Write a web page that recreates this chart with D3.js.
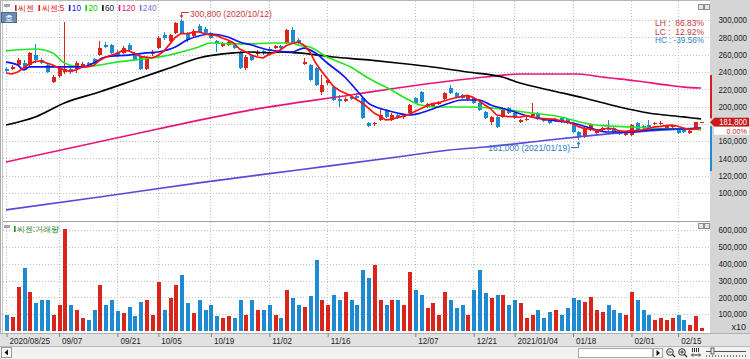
<!DOCTYPE html>
<html><head><meta charset="utf-8">
<script src="https://cdn.jsdelivr.net/npm/d3@7/dist/d3.min.js"></script>
<style>
html,body{margin:0;padding:0;background:#fff;overflow:hidden}
svg{display:block}
text{font-family:"Liberation Sans",Arial,sans-serif}
</style></head><body>
<svg id="c" width="750" height="359"></svg>
<script>
// ---------------- DATA ----------------
const dates = ["2020/08/25","2020/08/26","2020/08/27","2020/08/28","2020/08/31","2020/09/01","2020/09/02","2020/09/03","2020/09/04",
"2020/09/07","2020/09/08","2020/09/09","2020/09/10","2020/09/11","2020/09/14","2020/09/15","2020/09/16","2020/09/17","2020/09/18",
"2020/09/21","2020/09/22","2020/09/23","2020/09/24","2020/09/25","2020/09/28","2020/09/29","2020/10/05","2020/10/06","2020/10/07","2020/10/08",
"2020/10/12","2020/10/13","2020/10/14","2020/10/15","2020/10/16","2020/10/19","2020/10/20","2020/10/21","2020/10/22","2020/10/23",
"2020/10/26","2020/10/27","2020/10/28","2020/10/29","2020/10/30","2020/11/02","2020/11/03","2020/11/04","2020/11/05","2020/11/06",
"2020/11/09","2020/11/10","2020/11/11","2020/11/12","2020/11/13","2020/11/16","2020/11/17","2020/11/18","2020/11/19","2020/11/20",
"2020/11/23","2020/11/24","2020/11/25","2020/11/26","2020/11/27","2020/11/30","2020/12/01","2020/12/02","2020/12/03","2020/12/04",
"2020/12/07","2020/12/08","2020/12/09","2020/12/10","2020/12/11","2020/12/14","2020/12/15","2020/12/16","2020/12/17","2020/12/18",
"2020/12/21","2020/12/22","2020/12/23","2020/12/24","2020/12/28","2020/12/29","2020/12/30","2021/01/04","2021/01/05","2021/01/06",
"2021/01/07","2021/01/08","2021/01/11","2021/01/12","2021/01/13","2021/01/14","2021/01/15","2021/01/18","2021/01/19","2021/01/20",
"2021/01/21","2021/01/22","2021/01/25","2021/01/26","2021/01/27","2021/01/28","2021/01/29","2021/02/01","2021/02/02","2021/02/03",
"2021/02/04","2021/02/05","2021/02/08","2021/02/09","2021/02/10","2021/02/15","2021/02/16","2021/02/17","2021/02/18","2021/02/19"];

const opens = [243400,243400,248000,250300,248000,259500,253800,248000,228300,235300,239900,243400,243400,246800,250300,254900,259500,271100,271100,263000,
261900,271100,261900,258400,243400,260700,267600,282700,275700,285000,298800,283800,281500,293100,289600,285000,275700,269900,271100,271100,
261900,244500,259500,260700,264200,266500,267600,269900,273400,288400,276900,249700,248000,244500,216800,227200,222500,208700,206400,211000,
212100,209800,180900,179200,184400,196000,184400,190200,187300,192500,209800,216800,199400,200600,202900,208700,221400,215600,213300,208700,
209800,204100,193600,182100,187900,187900,198300,192500,182100,184900,189000,192500,185600,185600,183200,186700,185600,180900,170500,164800,
172800,169400,172800,175200,175200,170500,167100,167100,180900,177500,178600,179800,179800,175200,176300,172800,174000,169400,175200,181800];
const highs = [245700,248000,256100,253800,263000,272300,256100,250300,236400,246800,297700,244500,252600,251400,251400,256100,275700,274600,272300,265300,
269900,273400,263000,259500,256100,265300,281500,286100,283800,297700,300800,286100,289600,295400,291900,286100,276900,274600,275700,272300,
264200,259500,260700,265300,265300,268800,271100,271100,289600,291900,279200,256100,249100,245700,236400,233000,223700,213300,211000,212100,
214500,211000,182100,182100,198300,197100,192500,191300,191300,202900,211000,217900,204100,204100,206400,216800,224900,216800,214500,213300,
211000,205200,194800,189000,189000,199400,199400,193600,185600,187900,204100,193600,186700,186700,186700,187900,186700,182100,171700,176300,
179800,174000,176300,184400,176300,171700,171700,179800,182100,178600,184400,182100,183200,178600,178600,174000,175200,172800,182100,182600];
const lows = [239900,242200,246800,243400,246800,250300,249100,238700,227200,233000,237600,237600,238700,245700,246800,249100,258400,267600,260700,257200,
260700,264200,252600,242200,242200,258400,266500,276900,274600,283800,283800,274600,279200,285000,283800,278000,263000,268800,269900,266500,
243400,242200,252600,258400,259500,263000,266500,266500,272300,272300,272300,248000,229500,223700,213300,224900,206400,199400,205200,207500,
208700,185600,176300,177500,183200,186700,183200,185600,185600,191300,202900,204100,198300,199400,201700,207500,214500,209800,208700,207500,
202900,194800,185600,178600,175200,186700,191300,185600,180900,183200,187900,184400,182100,179800,182100,180900,179800,169400,161000,163600,
171700,168200,171700,171700,169400,167100,165900,165900,171700,174000,174000,178600,178600,174000,175200,168200,169400,168200,174000,181000];
const closes = [241000,245700,253800,244500,261900,253800,250300,239900,234100,244500,243400,239900,250300,249100,248000,250300,267600,268800,261900,258400,
267600,265300,253800,243400,254900,263000,279200,279200,282700,296500,285000,276900,287300,286100,285000,279200,273400,272300,274600,267600,
244500,257200,253800,263000,261900,264200,269900,268200,288400,273400,273400,251400,230600,224900,224900,230600,207500,206400,208700,208700,
209800,186700,177500,180400,190200,187900,190200,186700,189000,201700,204100,205200,202900,202900,205200,215600,215600,211000,209800,212100,
204100,196000,186700,187900,176300,198300,192500,186700,184400,185600,191300,185600,183200,180900,185600,182100,180900,170500,164800,175200,
178600,172800,175200,172800,170500,168200,170500,178600,172800,175200,175200,180900,180900,177500,177500,169400,170500,171700,181800,181800];
// volume (chart units, axis shows x10)
const volumes = [95000,83000,262000,375000,232000,167000,185000,185000,95000,155000,607000,155000,125000,77000,65000,125000,274000,155000,185000,119000,
107000,143000,89000,173000,185000,95000,292000,125000,196000,274000,333000,167000,107000,185000,125000,155000,89000,77000,89000,77000,
185000,95000,185000,125000,125000,155000,95000,77000,244000,196000,155000,143000,208000,423000,185000,155000,214000,185000,232000,185000,
155000,363000,315000,393000,185000,155000,185000,185000,155000,351000,244000,214000,137000,167000,95000,232000,185000,137000,155000,95000,
244000,363000,226000,196000,214000,214000,155000,185000,167000,77000,95000,125000,77000,113000,125000,95000,137000,196000,185000,173000,
202000,125000,113000,155000,125000,107000,95000,232000,185000,125000,95000,65000,77000,65000,77000,95000,65000,36000,89000,18000];
// moving averages
const ma5 = [238700,237600,239900,244500,249400,251900,252900,250100,248000,244500,242400,240400,242400,245400,246100,247500,253100,256800,259300,261400,
264900,264400,261400,257700,257000,256100,258900,263900,271800,280100,284500,284100,285700,286400,284100,282900,282200,279200,276900,273400,
266500,263200,259500,257200,256100,260000,262600,265400,270500,272800,274700,271000,263400,250700,241000,232500,223700,218900,215600,212400,
208200,204100,198300,192600,188900,184500,185200,187100,188800,191100,194300,197300,200600,203400,204100,206400,208400,210100,211400,212800,
210500,206600,201700,197400,190200,189000,188300,188300,187600,189500,188100,186700,186000,185300,185300,183500,182500,180000,176800,174700,
174000,172400,173300,174900,174000,171900,171400,172100,172100,173100,174500,176500,177000,177900,178400,177200,175200,173300,174200,175000];
const ma10 = [[0,251400],[2,248000],[3,242200],[4,245700],[6,245700],[9,245700],[13,245700],[15,250300],[17,257200],[21,259500],[24,261900],[26,263000],
[29,268800],[31,276900],[33,281500],[35,283800],[38,280300],[40,274600],[42,271100],[45,265300],[49,263000],[51,267600],[53,261900],[55,250300],
[58,234100],[60,219100],[62,204100],[65,196000],[67,192500],[69,190200],[71,192500],[74,199400],[76,204100],[78,207500],[81,207500],[83,201700],
[86,196000],[90,187900],[93,184400],[97,180900],[100,175200],[103,170500],[107,170500],[110,172800],[114,174000],[117,174000],[119,175200]];
const ma20 = [[0,264200],[5,266500],[8,261900],[10,250300],[13,245700],[16,248000],[19,251400],[22,253800],[25,256100],[28,259500],[30,263000],
[33,268800],[35,273400],[39,272300],[42,272300],[45,273400],[49,273400],[50,271100],[52,268800],[55,257200],[59,245700],[62,233000],[66,219100],
[69,207500],[71,201700],[74,199400],[76,199400],[79,199400],[83,198300],[86,196000],[90,192500],[93,190200],[95,187900],[97,184400],[99,180900],
[101,178600],[103,177500],[107,176300],[110,175200],[114,174000],[117,174000],[119,172800]];
const ma60 = [[0,178600],[5,187900],[10,204100],[16,216800],[22,230600],[28,244500],[33,256100],[39,261900],[42,263000],[45,261900],[47,263000],
[50,261900],[56,257200],[62,253800],[67,250300],[73,245700],[79,239900],[85,234100],[88,227200],[93,219100],[99,209800],[105,199400],[110,192500],
[116,187900],[119,185600]];
const ma120 = [[0,135800],[26,174000],[42,196000],[59,213300],[67,221400],[76,229500],[82,234100],[88,237600],[93,237600],[98,237600],[102,234100],
[108,229500],[113,224900],[116,222500],[119,221400]];
const ma240 = [[0,80400],[16,95400],[33,111600],[50,126600],[67,141600],[76,149700],[82,153200],[93,161300],[98,164800],[105,169400],[110,171700],[119,175200]];

const priceTicks = [100000,120000,140000,160000,180000,200000,220000,240000,260000,280000,300000];
const volTicks = [100000,200000,300000,400000,500000,600000];
const tickDates = ["2020/08/25","2020/09/07","2020/09/21","2020/10/05","2020/10/19","2020/11/02","2020/11/16","2020/12/07","2020/12/21","2021/01/04","2021/01/18","2021/02/01","2021/02/15"];
const tickLabels = ["2020/08/25","09/07","09/21","10/05","10/19","11/02","11/16","12/07","12/21","2021/01/04","01/18","02/01","02/15"];
const legendItems = [["씨젠","#c81e1e"],["씨젠:5","#ee1111"],["10","#1010e8"],["20","#10c810"],["60","#111111"],["120","#e0147c"],["240","#7b6fe0"]];
const statLines = [["LH :  86.83%","#c43a3a"],["LC :  12.92%","#c43a3a"],["HC : -39.56%","#2a86c4"]];

// ---------------- DRAW ----------------
const svg = d3.select('#c');
const RED = "#d9261c", BLUE = "#1e8ad2";
const PL = 3, PR = 710, PT = 1, PB = 220, VT = 222, VB = 332;
const x = d3.scaleLinear().domain([0, dates.length - 1]).range([6, 701]);
const y = d3.scaleLinear().domain([100000, 300000]).range([193, 20]);
const yv = d3.scaleLinear().domain([0, 600000]).range([331, 230]);
const fmt = d3.format(',');

function condense(sel, f){
  sel.each(function(){ const w = this.getComputedTextLength(); this.setAttribute('textLength', (w*f).toFixed(1)); this.setAttribute('lengthAdjust','spacingAndGlyphs'); });
}

svg.append('rect').attr('width',750).attr('height',359).attr('fill','#ffffff');
svg.append('rect').attr('x',PR).attr('y',0).attr('width',750-PR).attr('height',333).attr('fill','#d5d5d5');
svg.append('line').attr('x1',0.5).attr('x2',0.5).attr('y1',0).attr('y2',346).attr('stroke','#a8a8a8');
svg.append('line').attr('x1',2.5).attr('x2',2.5).attr('y1',0).attr('y2',333).attr('stroke','#c4c4c4');
svg.append('line').attr('x1',0).attr('x2',PR).attr('y1',0.5).attr('y2',0.5).attr('stroke','#b8b8b8');
svg.append('line').attr('x1',PL).attr('x2',PR).attr('y1',221.5).attr('y2',221.5).attr('stroke','#a0a0a0');

const tickIdx = tickDates.map(d => dates.indexOf(d));

// grids
const grid = svg.append('g').attr('stroke','#c2c2c2').attr('stroke-dasharray','1,2').attr('shape-rendering','crispEdges');
grid.selectAll('.hp').data(priceTicks).join('line').attr('x1',PL).attr('x2',PR)
  .attr('y1',d=>Math.round(y(d))+0.5).attr('y2',d=>Math.round(y(d))+0.5);
grid.selectAll('.hv').data(volTicks).join('line').attr('class','hv').attr('x1',PL).attr('x2',PR)
  .attr('y1',d=>Math.round(yv(d))+0.5).attr('y2',d=>Math.round(yv(d))+0.5);
grid.selectAll('.vp').data(tickIdx).join('line').attr('class','vp')
  .attr('x1',d=>Math.round(x(d))+0.5).attr('x2',d=>Math.round(x(d))+0.5).attr('y1',PT).attr('y2',PB);
grid.selectAll('.vv').data(tickIdx).join('line').attr('class','vv')
  .attr('x1',d=>Math.round(x(d))+0.5).attr('x2',d=>Math.round(x(d))+0.5).attr('y1',VT).attr('y2',VB);

const defs = svg.append('defs');
defs.append('clipPath').attr('id','cp').append('rect').attr('x',PL).attr('y',PT).attr('width',PR-PL).attr('height',PB-PT);
const plot = svg.append('g').attr('clip-path','url(#cp)');

const idx = d3.range(dates.length);
// candles
const cg = plot.append('g').attr('shape-rendering','crispEdges');
cg.selectAll('line').data(idx).join('line')
  .attr('x1',i=>Math.round(x(i))+0.5).attr('x2',i=>Math.round(x(i))+0.5)
  .attr('y1',i=>y(highs[i])).attr('y2',i=>y(lows[i]))
  .attr('stroke',i=>closes[i]>=opens[i]?RED:BLUE);
cg.selectAll('rect').data(idx).join('rect')
  .attr('x',i=>Math.round(x(i))-1.5).attr('width',4)
  .attr('y',i=>Math.min(y(opens[i]),y(closes[i])))
  .attr('height',i=>Math.max(1,Math.abs(y(opens[i])-y(closes[i]))))
  .attr('fill',i=>closes[i]>=opens[i]?RED:BLUE);

// moving averages
const lineFull = d3.line().x((d,i)=>x(i)).y(d=>y(d));
const lineSparse = d3.line().x(d=>x(d[0])).y(d=>y(d[1])).curve(d3.curveMonotoneX);
const maG = plot.append('g').attr('fill','none').attr('stroke-width',1.7).attr('stroke-linejoin','round');
maG.append('path').attr('d',lineSparse(ma240)).attr('stroke','#5a48d8');
maG.append('path').attr('d',lineSparse(ma120)).attr('stroke','#e8147c');
maG.append('path').attr('d',lineSparse(ma60)).attr('stroke','#000000');
maG.append('path').attr('d',lineSparse(ma20)).attr('stroke','#22e622');
maG.append('path').attr('d',lineSparse(ma10)).attr('stroke','#0a14f0');
maG.append('path').attr('d',lineFull(ma5)).attr('stroke','#ff1010');

// high / low annotations
const hiI = d3.maxIndex(highs), loI = d3.minIndex(lows);
const ann = svg.append('g');
const hx = Math.round(x(hiI))+0.5, hy = y(highs[hiI]);
ann.append('path').attr('d',`M${hx},${hy-2} L${hx},12.5 L189,12.5`).attr('fill','none').attr('stroke','#cc3b3b');
ann.append('path').attr('d',`M${hx-2},${hy-4} L${hx+2},${hy-4} L${hx},${hy-1} Z`).attr('fill','#cc3b3b');
ann.append('text').attr('x',190).attr('y',16.5).attr('text-anchor','start').attr('font-size',9.5).attr('fill','#cc3b3b')
  .text(fmt(highs[hiI])+' ('+dates[hiI]+')').call(condense,0.9);
const lx = Math.round(x(loI))+0.5, ly = y(lows[loI]);
ann.append('path').attr('d',`M${lx},${ly+2} L${lx},147.5 L571,147.5`).attr('fill','none').attr('stroke','#2d7bc4');
ann.append('path').attr('d',`M${lx-2},${ly+4} L${lx+2},${ly+4} L${lx},${ly+1} Z`).attr('fill','#2d7bc4');
ann.append('text').attr('x',570).attr('y',150.5).attr('text-anchor','end').attr('font-size',9.5).attr('fill','#2d7bc4')
  .text(fmt(lows[loI])+' ('+dates[loI]+')').call(condense,0.9);

// stats text
svg.append('g').selectAll('text').data(statLines).join('text')
  .attr('x',704).attr('y',(d,i)=>26+i*8.5).attr('text-anchor','end')
  .attr('xml:space','preserve').style('white-space','pre')
  .attr('font-family','Liberation Mono, DejaVu Sans Mono, monospace').attr('font-size',8.5)
  .attr('fill',d=>d[1]).attr('textLength',49).attr('lengthAdjust','spacingAndGlyphs').text(d=>d[0]);

// volume
const vg = svg.append('g').attr('shape-rendering','crispEdges');
vg.selectAll('rect').data(idx).join('rect')
  .attr('x',i=>Math.round(x(i))-1.5).attr('width',4)
  .attr('y',i=>yv(volumes[i])).attr('height',i=>yv(0)-yv(volumes[i]))
  .attr('fill',i=>closes[i]>=opens[i]?RED:BLUE);

// right axes (labels placed by the scales; the label under the last-price marker is hidden)
const last = closes[closes.length-1], prev = closes[closes.length-2];
const priceLabelTicks = priceTicks.filter(t => Math.abs(y(t)-y(last)) > 9);
svg.append('g').selectAll('text').data(priceLabelTicks).join('text')
  .attr('x',747).attr('y',d=>y(d)+3.3).attr('text-anchor','end').attr('font-size',8.8).attr('fill','#1a1a1a')
  .text(d=>fmt(d)).call(condense,0.9);
svg.append('g').selectAll('text').data(volTicks).join('text')
  .attr('x',747).attr('y',d=>yv(d)+3.3).attr('text-anchor','end').attr('font-size',8.8).attr('fill','#1a1a1a')
  .text(d=>fmt(d)).call(condense,0.9);
svg.append('text').attr('x',746).attr('y',330).attr('text-anchor','end').attr('font-size',9).attr('fill','#1a1a1a').text('x10');

// last price marker
const ly2 = y(last);
svg.append('rect').attr('x',710).attr('y',75).attr('width',2).attr('height',ly2-4-75).attr('fill','#d42020');
svg.append('rect').attr('x',710).attr('y',ly2+4).attr('width',2).attr('height',171-ly2-4).attr('fill','#1e8ad2');
svg.append('path').attr('d',`M710,${ly2} L714,${ly2-4} L714,${ly2+4} Z`).attr('fill','#c81818');
svg.append('rect').attr('x',714).attr('y',ly2-4.5).attr('width',35).attr('height',9).attr('fill','#c81818');
svg.append('text').attr('x',747).attr('y',ly2+3).attr('text-anchor','end').attr('font-size',8.5).attr('fill','#ffffff')
  .text(fmt(last)).call(condense,0.9);
svg.append('rect').attr('x',714).attr('y',ly2+4.5).attr('width',35).attr('height',8).attr('fill','#ffffff');
svg.append('text').attr('x',747).attr('y',ly2+12.2).attr('text-anchor','end').attr('font-size',8).attr('fill','#c81818')
  .text(d3.format('.2f')((last-prev)/prev*100)+'%').call(condense,0.9);

// x axis band
svg.append('rect').attr('x',0).attr('y',333).attr('width',750).attr('height',13).attr('fill','#e2e2e2');
svg.append('line').attr('x1',0).attr('x2',750).attr('y1',333.5).attr('y2',333.5).attr('stroke','#b0b0b0');
const xa = svg.append('g').attr('transform','translate(0,333)')
  .call(d3.axisBottom(x).tickValues(tickIdx).tickFormat((d,i)=>tickLabels[i]).tickSize(4).tickPadding(0));
xa.select('.domain').remove();
xa.selectAll('.tick line').attr('stroke','#808080').attr('transform','translate(0.5,0)');
xa.selectAll('text').attr('text-anchor','start').attr('dx',3).attr('dy',0).attr('y',10.5)
  .attr('font-size',9).attr('fill','#222').attr('font-family','Liberation Sans, Arial, sans-serif').call(condense,0.9);

// bottom toolbar
svg.append('rect').attr('x',0).attr('y',346).attr('width',750).attr('height',13).attr('fill','#f2f2f2');
svg.append('line').attr('x1',0).attr('x2',750).attr('y1',346.5).attr('y2',346.5).attr('stroke','#b8b8b8');
svg.append('rect').attr('x',1.5).attr('y',347.5).attr('width',10).attr('height',10).attr('fill','#fafafa').attr('stroke','#9a9a9a');
svg.append('path').attr('d','M4.5,352.5 L8,349.5 L8,355.5 Z').attr('fill','#111');
svg.append('rect').attr('x',578.5).attr('y',348.5).attr('width',74).attr('height',9).attr('fill','#ffffff').attr('stroke','#a8a8a8');
svg.append('rect').attr('x',653.5).attr('y',348.5).attr('width',9).attr('height',9).attr('fill','#fafafa').attr('stroke','#a8a8a8');
svg.append('path').attr('d','M656.5,350 L660,353 L656.5,356 Z').attr('fill','#111');
[[670,'-'],[682,'+']].forEach(([cx,s])=>{
  svg.append('circle').attr('cx',cx).attr('cy',352).attr('r',3.3).attr('fill','none').attr('stroke','#333').attr('stroke-width',1);
  svg.append('line').attr('x1',cx+2.3).attr('y1',354.3).attr('x2',cx+5).attr('y2',357).attr('stroke','#333').attr('stroke-width',1.3);
  svg.append('line').attr('x1',cx-1.7).attr('x2',cx+1.7).attr('y1',352).attr('y2',352).attr('stroke','#333');
  if(s==='+') svg.append('line').attr('x1',cx).attr('x2',cx).attr('y1',350.3).attr('y2',353.7).attr('stroke','#333');
});
svg.append('g').attr('stroke','#333').selectAll('line').data([0,1,2,3]).join('line')
  .attr('x1',d=>692.5+d*2).attr('x2',d=>692.5+d*2).attr('y1',348).attr('y2',352);
svg.append('path').attr('d','M692,355 L700,355 M693,353.5 L691.5,355 L693,356.5 M699,353.5 L700.5,355 L699,356.5').attr('fill','none').attr('stroke','#333');
svg.append('line').attr('x1',706).attr('x2',746).attr('y1',351.5).attr('y2',351.5).attr('stroke','#555');
svg.append('g').attr('stroke','#777').selectAll('line').data(d3.range(0,41,3)).join('line')
  .attr('x1',d=>706.5+d).attr('x2',d=>706.5+d).attr('y1',355).attr('y2',357);
svg.append('rect').attr('x',711).attr('y',348).attr('width',3).attr('height',6).attr('fill','#e8e8e8').attr('stroke','#444').attr('stroke-width',0.8);

// legends
function legend(items, x0, yb){
  const g = svg.append('g');
  g.append('rect').attr('x',4).attr('y',yb-7).attr('width',6).attr('height',3).attr('fill','#a6a6a6');
  let cx = x0;
  items.forEach(([t,c])=>{
    g.append('rect').attr('x',cx).attr('y',yb-6).attr('width',1.6).attr('height',6).attr('fill',c);
    const tx = g.append('text').attr('x',cx+3).attr('y',yb).attr('text-anchor','start').attr('font-size',8.2)
      .attr('font-family','"Noto Sans CJK KR", sans-serif').attr('fill',c).text(t);
    cx = cx + 3 + tx.node().getComputedTextLength() + 4.5;
  });
}
legend(legendItems, 15, 11);
legend([["씨젠:거래량","#2c8a2c"]], 14, 232);

// "호" button
svg.append('rect').attr('x',1.5).attr('y',12.5).attr('width',15).attr('height',10).attr('fill','#6a8bb4').attr('stroke','#4a6a90');
svg.append('text').attr('x',9).attr('y',20.8).attr('text-anchor','middle').attr('font-size',8)
  .attr('font-family','"Noto Sans CJK KR", sans-serif').attr('fill','#ffffff').text('호');

// panel buttons
[4,223].forEach(yy=>{
  [698.5,704.5].forEach(bx=>{
    svg.append('rect').attr('x',bx).attr('y',yy+0.5).attr('width',5).attr('height',5).attr('fill','#e6e6e6').attr('stroke','#8c8c8c');
  });
});
</script>
</body></html>
